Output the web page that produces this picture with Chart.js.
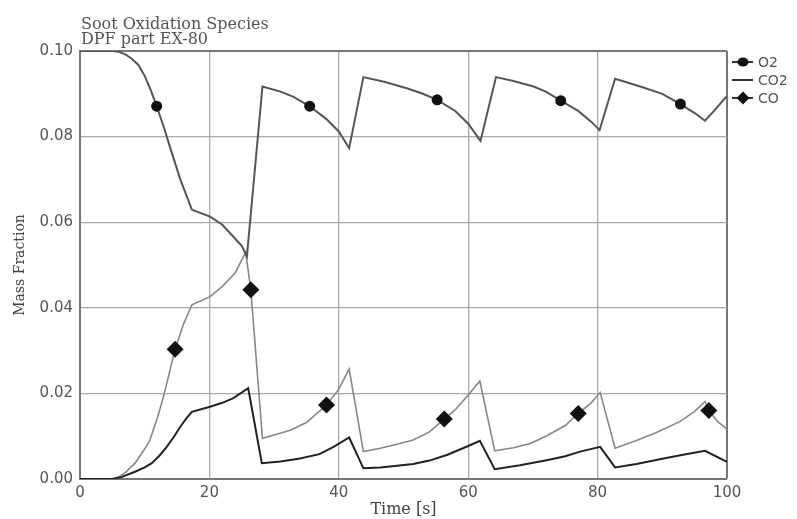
<!DOCTYPE html>
<html>
<head>
<meta charset="utf-8">
<script src="https://cdn.jsdelivr.net/npm/chart.js@4.4.1/dist/chart.umd.min.js"></script>
<style>
  html, body { margin: 0; padding: 0; background: #fff; }
  #wrap { width: 797px; height: 519px; position: relative; }
</style>
</head>
<body>
<div id="wrap"><canvas id="chart"></canvas></div>
<script>
// values (time in s, mass fraction)
const o2Time = [0, 4, 5, 6, 7, 8, 9, 10, 11, 11.85, 13, 13.9, 15.5, 17.3, 20.1, 22, 23.7, 25, 25.8, 28.2, 31, 33, 35.5, 38, 40, 41.6, 43.8, 47, 50.5, 53, 55.2, 58, 60, 61.9, 64.3, 67, 70.1, 72, 74.3, 77, 79, 80.3, 82.7, 86.6, 90, 92.8, 95, 96.6, 98, 100];
const o2Vals = [0.1, 0.1, 0.1, 0.0998, 0.0992, 0.0982, 0.0968, 0.0942, 0.0906, 0.0871, 0.0820, 0.0776, 0.0700, 0.0629, 0.0613, 0.0594, 0.0566, 0.0545, 0.0520, 0.0917, 0.0905, 0.0893, 0.0871, 0.0842, 0.0812, 0.0773, 0.0939, 0.0928, 0.0913, 0.0900, 0.0886, 0.0860, 0.0830, 0.0790, 0.0939, 0.0930, 0.0917, 0.0905, 0.0884, 0.0860, 0.0835, 0.0815, 0.0935, 0.0917, 0.0900, 0.0876, 0.0855, 0.0837, 0.0860, 0.0895];

const co2Time = [0, 5, 6.5, 8.5, 10, 11.1, 12.3, 13.4, 14.5, 15.5, 16.5, 17.3, 20.1, 22, 23.7, 26.0, 28.1, 31, 34, 37, 39.2, 41.6, 43.8, 46.4, 49, 51.5, 54, 56.7, 60, 61.8, 64.1, 68, 72.1, 75, 77.3, 80.4, 82.7, 86, 90.2, 93, 96.6, 100];
const co2Vals = [0, 0, 0.0005, 0.0017, 0.0027, 0.0037, 0.0055, 0.0075, 0.0098, 0.0122, 0.0143, 0.0157, 0.0169, 0.0178, 0.0189, 0.0212, 0.0037, 0.0041, 0.0048, 0.0058, 0.0075, 0.0097, 0.0025, 0.0027, 0.0031, 0.0035, 0.0043, 0.0056, 0.0077, 0.0089, 0.0023, 0.0032, 0.0044, 0.0053, 0.0064, 0.0075, 0.0027, 0.0035, 0.0048, 0.0056, 0.0066, 0.0040];

const coTime = [0, 5, 6, 7, 8.5, 10, 10.8, 12, 12.9, 14.7, 16, 17.3, 20.1, 22, 24, 25.6, 26.4, 28.2, 30, 32.5, 35, 38.1, 40, 41.6, 43.8, 46.4, 49, 51.5, 54, 56.3, 58, 60, 61.8, 64.1, 67, 69.6, 72, 75, 77.0, 79, 80.4, 82.7, 86, 89, 92.7, 95, 96.6, 97.2, 98.5, 100];
const coVals = [0, 0, 0.0005, 0.0015, 0.0037, 0.0070, 0.0091, 0.0145, 0.0192, 0.0303, 0.0362, 0.0407, 0.0426, 0.0450, 0.0482, 0.0530, 0.0442, 0.0095, 0.0103, 0.0114, 0.0132, 0.0173, 0.0210, 0.0257, 0.0064, 0.0072, 0.0081, 0.0091, 0.0110, 0.0140, 0.0162, 0.0196, 0.0229, 0.0066, 0.0073, 0.0083, 0.0100, 0.0125, 0.0153, 0.0178, 0.0202, 0.0072, 0.0090, 0.0108, 0.0134, 0.0158, 0.0181, 0.0160, 0.0135, 0.0116];

// times at which the series carry a marker
const o2Markers = [11.85, 35.5, 55.2, 74.3, 92.8];
const coMarkers = [14.7, 26.4, 38.1, 56.3, 77.0, 97.2];

const seriesNames = ['O2', 'CO2', 'CO'];
const titleLines = ['Soot Oxidation Species', 'DPF part EX-80'];

const toPoints = (ts, vs) => ts.map((t, i) => ({ x: t, y: vs[i] }));
const markerAt = (list, r) => ctx => (ctx.raw && list.includes(ctx.raw.x)) ? r : 0;

const serif = "'DejaVu Serif', serif";
const sans = "'DejaVu Sans', sans-serif";

const extras = {
    id: 'extras',
    afterDraw(chart) {
        const ctx = chart.ctx;
        const area = chart.chartArea;
        ctx.save();
        // title, top-left over the plot
        ctx.fillStyle = '#555';
        ctx.font = '16px ' + serif;
        ctx.textBaseline = 'alphabetic';
        ctx.textAlign = 'left';
        ctx.fillText(titleLines[0], area.left + 1, 29);
        ctx.fillText(titleLines[1], area.left + 1, 44);

        // legend on the right
        ctx.font = '14px ' + sans;
        ctx.textBaseline = 'middle';
        chart.data.datasets.forEach((ds, i) => {
            const y = 62 + i * 18;
            const x0 = area.right + 5;
            ctx.strokeStyle = '#333';
            ctx.lineWidth = 2;
            ctx.beginPath();
            ctx.moveTo(x0, y);
            ctx.lineTo(x0 + 21, y);
            ctx.stroke();
            ctx.fillStyle = '#111';
            if (ds.legendMarker === 'circle') {
                ctx.beginPath();
                ctx.ellipse(x0 + 11, y, 5.5, 4.5, 0, 0, Math.PI * 2);
                ctx.fill();
            } else if (ds.legendMarker === 'diamond') {
                ctx.beginPath();
                ctx.moveTo(x0 + 11, y - 6.5);
                ctx.lineTo(x0 + 17.5, y);
                ctx.lineTo(x0 + 11, y + 6.5);
                ctx.lineTo(x0 + 4.5, y);
                ctx.closePath();
                ctx.fill();
            }
            ctx.fillStyle = '#555';
            ctx.fillText(ds.label, x0 + 26, y + 1);
        });
        ctx.restore();
    }
};

new Chart(document.getElementById('chart'), {
    type: 'line',
    data: {
        datasets: [
            {
                label: seriesNames[0],
                data: toPoints(o2Time, o2Vals),
                borderColor: '#555',
                borderWidth: 2,
                pointRadius: markerAt(o2Markers, 5.5),
                pointStyle: 'circle',
                pointBackgroundColor: '#111',
                pointBorderColor: '#111',
                pointBorderWidth: 0,
                legendMarker: 'circle'
            },
            {
                label: seriesNames[1],
                data: toPoints(co2Time, co2Vals),
                borderColor: '#222',
                borderWidth: 2,
                pointRadius: 0,
                legendMarker: 'none'
            },
            {
                label: seriesNames[2],
                data: toPoints(coTime, coVals),
                borderColor: '#888',
                borderWidth: 1.6,
                pointRadius: markerAt(coMarkers, 8.5),
                pointStyle: 'rectRot',
                pointBackgroundColor: '#111',
                pointBorderColor: '#111',
                pointBorderWidth: 0,
                legendMarker: 'diamond'
            }
        ]
    },
    options: {
        responsive: true,
        maintainAspectRatio: false,
        animation: false,
        events: [],
        layout: { padding: { top: 51, right: 70, bottom: 0, left: 0 } },
        plugins: {
            legend: { display: false },
            title: { display: false },
            tooltip: { enabled: false }
        },
        scales: {
            x: {
                type: 'linear',
                min: 0,
                max: 100,
                ticks: {
                    stepSize: 20,
                    padding: 5,
                    color: '#555',
                    font: { family: sans, size: 15 }
                },
                grid: {
                    drawTicks: false,
                    color: ctx => ctx.tick && ctx.tick.value === 100 ? '#777' : '#aaa',
                    lineWidth: ctx => ctx.tick && ctx.tick.value === 100 ? 2 : 1.3
                },
                border: { color: '#777', width: 2 },
                title: {
                    display: true,
                    text: 'Time [s]',
                    color: '#444',
                    font: { family: serif, size: 16 },
                    padding: { top: 0, bottom: 0 }
                },
                afterFit: s => { s.height = 40; }
            },
            y: {
                min: 0,
                max: 0.1,
                ticks: {
                    stepSize: 0.02,
                    padding: 7,
                    color: '#555',
                    font: { family: sans, size: 15 },
                    callback: v => v.toFixed(2)
                },
                grid: {
                    drawTicks: false,
                    color: ctx => ctx.tick && Math.abs(ctx.tick.value - 0.1) < 1e-9 ? '#777' : '#aaa',
                    lineWidth: ctx => ctx.tick && Math.abs(ctx.tick.value - 0.1) < 1e-9 ? 2 : 1.3
                },
                border: { color: '#777', width: 2 },
                title: {
                    display: true,
                    text: 'Mass Fraction',
                    color: '#444',
                    font: { family: serif, size: 14 },
                    padding: { top: 12, bottom: 0 }
                },
                afterFit: s => { s.width = 80; }
            }
        }
    },
    plugins: [extras]
});
</script>
</body>
</html>
